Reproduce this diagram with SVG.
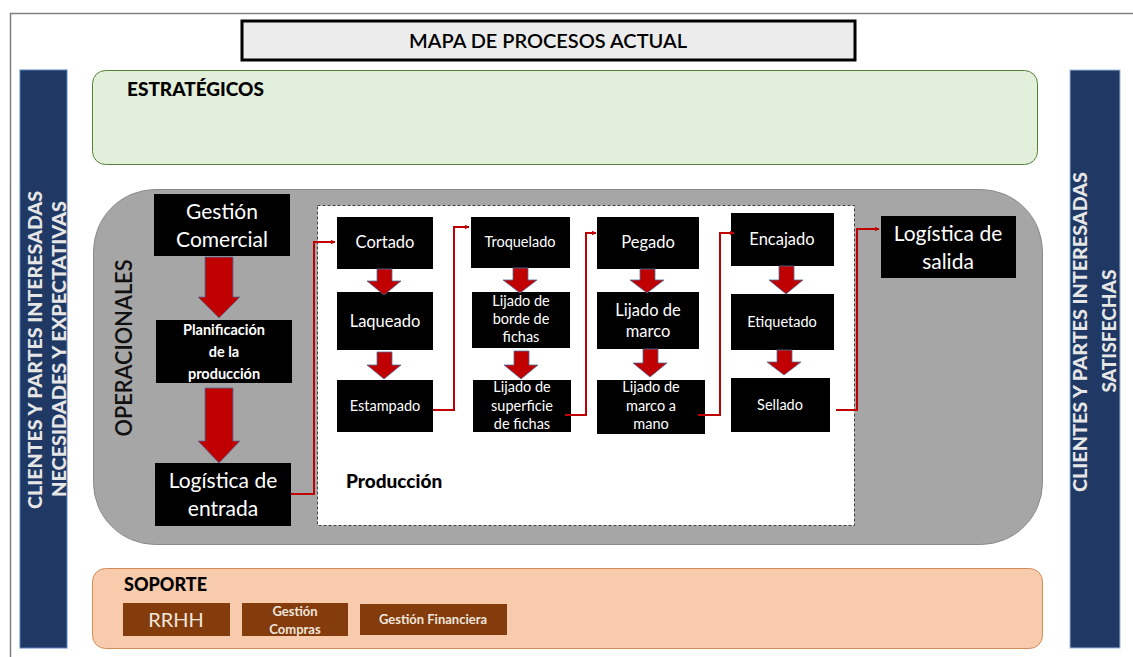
<svg xmlns="http://www.w3.org/2000/svg" width="1133" height="657" viewBox="0 0 1133 657">
<style>
text{font-family:Lato,"Open Sans","Liberation Sans",sans-serif;}
.box{fill:#000;}
.w{fill:#fff;text-anchor:middle;}
.wb{fill:#fff;text-anchor:middle;font-weight:bold;}
.big{font-size:21px;}
.mid{font-size:16.5px;}
.sm{font-size:14.5px;}
.side{fill:#e6e6e6;font-weight:900;font-size:19px;text-anchor:middle;}
.barr{fill:#c00000;stroke:#4f6fa0;stroke-width:0.8;}
.conn{fill:none;stroke:#c00000;stroke-width:2;}
.sup{fill:#843c0c;}
.supt{fill:#f0e6dc;text-anchor:middle;}
</style>
<defs>
<marker id="ah" viewBox="0 0 10 10" refX="9" refY="5" markerWidth="5" markerHeight="5" orient="auto" markerUnits="userSpaceOnUse">
<path d="M0,0 L10,5 L0,10 z" fill="#c00000"/>
</marker>
</defs>
<rect x="0" y="0" width="1133" height="657" fill="#fff"/>
<path d="M10.5,657 V13.5 H1133" fill="none" stroke="#7f7f7f" stroke-width="1.5"/>

<g id="title">
<rect x="242" y="21" width="613" height="39" fill="#ececec" stroke="#000" stroke-width="3"/>
<text x="548" y="48" font-size="20" font-weight="600" fill="#000" text-anchor="middle" textLength="278" lengthAdjust="spacingAndGlyphs">MAPA DE PROCESOS ACTUAL</text>
</g>

<g id="left-bar">
<rect x="20" y="70" width="47" height="578" fill="#1f3864" stroke="#5b84c4" stroke-width="1"/>
<text class="side" transform="translate(42,350) rotate(-90)" textLength="318" lengthAdjust="spacingAndGlyphs">CLIENTES Y PARTES INTERESADAS</text>
<text class="side" transform="translate(66,349) rotate(-90)" textLength="296" lengthAdjust="spacingAndGlyphs">NECESIDADES Y EXPECTATIVAS</text>
</g>

<g id="right-bar">
<rect x="1070" y="70" width="50" height="578" fill="#1f3864" stroke="#9db7dc" stroke-width="1"/>
<text class="side" transform="translate(1087,332) rotate(-90)" textLength="320" lengthAdjust="spacingAndGlyphs">CLIENTES Y PARTES INTERESADAS</text>
<text class="side" transform="translate(1116,331) rotate(-90)" textLength="123" lengthAdjust="spacingAndGlyphs">SATISFECHAS</text>
</g>

<g id="estrategicos">
<rect x="92.5" y="70.5" width="945" height="94" rx="13" fill="#e2efda" stroke="#548235" stroke-width="1"/>
<text x="127" y="96" font-size="19" font-weight="900" fill="#000">ESTRATÉGICOS</text>
</g>

<g id="operacionales">
<rect x="93.5" y="189.5" width="949" height="355" rx="62" fill="#a6a6a6" stroke="#8a8a8a" stroke-width="1"/>
<text transform="translate(132,348) rotate(-90)" font-size="22" font-weight="600" fill="#111" text-anchor="middle" textLength="177" lengthAdjust="spacingAndGlyphs">OPERACIONALES</text>
</g>

<g id="produccion">
<rect x="317.5" y="205.5" width="537" height="320" fill="#fff" stroke="#404040" stroke-width="1" stroke-dasharray="3,2"/>
<text x="346" y="488" font-size="19" font-weight="900" fill="#000">Producción</text>
</g>

<g id="gestion-comercial">
<rect class="box" x="154" y="194" width="136" height="62"/>
<text class="w big" x="222" y="219">Gestión</text>
<text class="w big" x="222" y="247">Comercial</text>
</g>
<g id="planificacion">
<rect class="box" x="156" y="320" width="136" height="63"/>
<text class="wb" font-size="14.5" x="224" y="335">Planificación</text>
<text class="wb" font-size="14.5" x="224" y="357">de la</text>
<text class="wb" font-size="14.5" x="224" y="379">producción</text>
</g>
<g id="logistica-entrada">
<rect class="box" x="155" y="463" width="136" height="63"/>
<text class="w big" x="223" y="488">Logística de</text>
<text class="w big" x="223" y="516">entrada</text>
</g>

<g id="cortado">
<rect class="box" x="337" y="217" width="96" height="52"/>
<text class="w mid" x="385" y="248">Cortado</text>
</g>
<g id="laqueado">
<rect class="box" x="337" y="292" width="96" height="58"/>
<text class="w mid" x="385" y="327">Laqueado</text>
</g>
<g id="estampado">
<rect class="box" x="337" y="380" width="96" height="52"/>
<text class="w sm" x="385" y="411">Estampado</text>
</g>

<g id="troquelado">
<rect class="box" x="471" y="217" width="99" height="51"/>
<text class="w sm" x="520" y="247">Troquelado</text>
</g>
<g id="lijado-borde">
<rect class="box" x="472" y="292" width="98" height="56"/>
<text class="w sm" x="521" y="306">Lijado de</text>
<text class="w sm" x="521" y="324">borde de</text>
<text class="w sm" x="521" y="342">fichas</text>
</g>
<g id="lijado-superficie">
<rect class="box" x="473" y="380" width="98" height="52"/>
<text class="w sm" x="522" y="392">Lijado de</text>
<text class="w sm" x="522" y="411">superficie</text>
<text class="w sm" x="522" y="429">de fichas</text>
</g>

<g id="pegado">
<rect class="box" x="597" y="217" width="102" height="52"/>
<text class="w mid" x="648" y="248">Pegado</text>
</g>
<g id="lijado-marco">
<rect class="box" x="597" y="292" width="102" height="57"/>
<text class="w mid" x="648" y="316">Lijado de</text>
<text class="w mid" x="648" y="337">marco</text>
</g>
<g id="lijado-marco-mano">
<rect class="box" x="597" y="380" width="108" height="54"/>
<text class="w sm" x="651" y="392">Lijado de</text>
<text class="w sm" x="651" y="411">marco a</text>
<text class="w sm" x="651" y="429">mano</text>
</g>

<g id="encajado">
<rect class="box" x="731" y="213" width="103" height="53"/>
<text class="w mid" x="782" y="245">Encajado</text>
</g>
<g id="etiquetado">
<rect class="box" x="731" y="294" width="103" height="56"/>
<text class="w sm" x="782" y="327">Etiquetado</text>
</g>
<g id="sellado">
<rect class="box" x="731" y="378" width="99" height="54"/>
<text class="w sm" x="780" y="410">Sellado</text>
</g>

<g id="logistica-salida">
<rect class="box" x="881" y="216" width="135" height="62"/>
<text class="w big" x="948" y="241">Logística de</text>
<text class="w big" x="948" y="269">salida</text>
</g>

<g id="soporte">
<rect x="92.5" y="568.5" width="950" height="80" rx="13" fill="#f8cbad" stroke="#d38b57" stroke-width="1"/>
<text x="124" y="591" font-size="18" font-weight="900" fill="#000">SOPORTE</text>
</g>
<g id="rrhh">
<rect class="sup" x="123" y="603" width="107" height="33"/>
<text class="supt" x="176" y="627" font-size="20">RRHH</text>
</g>
<g id="gestion-compras">
<rect class="sup" x="242" y="603" width="106" height="33"/>
<text class="supt" x="295" y="616" font-size="13" font-weight="bold">Gestión</text>
<text class="supt" x="295" y="634" font-size="13" font-weight="bold">Compras</text>
</g>
<g id="gestion-financiera">
<rect class="sup" x="360" y="604" width="147" height="31"/>
<text class="supt" x="433" y="624" font-size="13" font-weight="bold">Gestión Financiera</text>
</g>

<g id="connectors">
<path class="barr" d="M205,257 H233 V297 H240 L219,318 L198,297 H205 Z"/>
<path class="barr" d="M205,388 H233 V441 H240 L219,463 L198,441 H205 Z"/>
<path class="barr" d="M377,269 H392 V281 H401 L384,295 L367,281 H377 Z"/>
<path class="barr" d="M377,352 H392 V365 H401 L384,379 L367,365 H377 Z"/>
<path class="barr" d="M513,268 H528 V280 H537 L520,293 L503,280 H513 Z"/>
<path class="barr" d="M514,351 H529 V365 H538 L521,379 L504,365 H514 Z"/>
<path class="barr" d="M640,269 H655 V280 H664 L647,293 L630,280 H640 Z"/>
<path class="barr" d="M643,349 H658 V363 H667 L650,377 L633,363 H643 Z"/>
<path class="barr" d="M779,266 H794 V280 H803 L786,294 L769,280 H779 Z"/>
<path class="barr" d="M777,350 H792 V362 H801 L784,375 L767,362 H777 Z"/>
<path class="conn" d="M291,494 H314 V242 H335" marker-end="url(#ah)"/>
<path class="conn" d="M433,410 H454 V227 H469" marker-end="url(#ah)"/>
<path class="conn" d="M565,415 H586 V233 H596" marker-end="url(#ah)"/>
<path class="conn" d="M698,415 H720 V233 H734" marker-end="url(#ah)"/>
<path class="conn" d="M836,410 H857 V229 H879" marker-end="url(#ah)"/>
</g>
</svg>
